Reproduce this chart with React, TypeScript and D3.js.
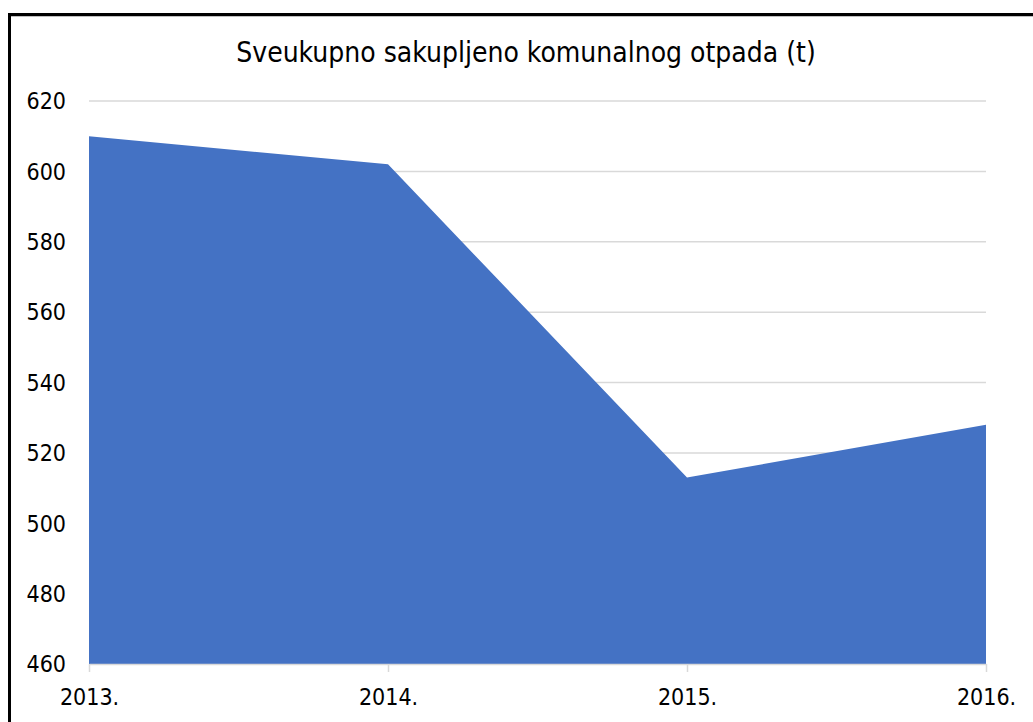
import React, { useEffect, useRef } from 'react';
import * as d3 from 'd3';

const years = ['2013.', '2014.', '2015.', '2016.'];
const tonnes = [610, 602, 513, 528];
const yTicks = [460, 480, 500, 520, 540, 560, 580, 600, 620];
const title = 'Sveukupno sakupljeno komunalnog otpada (t)';

const App: React.FC = () => {
  const svgRef = useRef<SVGSVGElement | null>(null);

  useEffect(() => {
    const W = 1033;
    const H = 722;
    const margin = { top: 101, right: 47, bottom: 58, left: 89 };
    const font = '"DejaVu Sans Condensed", "DejaVu Sans", sans-serif';

    const svg = d3.select(svgRef.current)
      .attr('width', W)
      .attr('height', H)
      .style('background-color', 'white');
    svg.selectAll('*').remove();

    const x = d3.scalePoint<string>()
      .domain(years)
      .range([margin.left, W - margin.right]);

    const y = d3.scaleLinear()
      .domain([460, 620])
      .range([H - margin.bottom, margin.top]);

    // gridlines
    svg.append('g')
      .selectAll('line')
      .data(yTicks.filter(t => t !== 460))
      .enter()
      .append('line')
      .attr('x1', margin.left)
      .attr('x2', W - margin.right)
      .attr('y1', d => y(d))
      .attr('y2', d => y(d))
      .attr('stroke', '#d9d9d9')
      .attr('stroke-width', 1.5);

    // area
    const area = d3.area<number>()
      .x((d, i) => x(years[i]) as number)
      .y0(y(460))
      .y1(d => y(d));

    svg.append('path')
      .datum(tonnes)
      .attr('d', area)
      .attr('fill', '#4472c4');

    // x axis
    const xAxis = svg.append('g')
      .attr('transform', `translate(0,${y(460)})`)
      .call(d3.axisBottom(x).tickSize(8).tickSizeOuter(0).tickPadding(17));
    xAxis.select('.domain').attr('stroke', '#d9d9d9').attr('stroke-width', 1.5);
    xAxis.selectAll('.tick line').attr('stroke', '#d9d9d9').attr('stroke-width', 1.5);
    xAxis.selectAll('.tick text')
      .attr('font-family', font)
      .attr('font-size', 23)
      .attr('fill', '#000');

    // y labels
    svg.append('g')
      .selectAll('text')
      .data(yTicks)
      .enter()
      .append('text')
      .attr('x', 66)
      .attr('y', d => y(d))
      .attr('dy', '0.36em')
      .attr('text-anchor', 'end')
      .attr('font-family', font)
      .attr('font-size', 23)
      .attr('fill', '#000')
      .text(d => d);

    svg.append('text')
      .attr('x', 526)
      .attr('y', 62)
      .attr('text-anchor', 'middle')
      .attr('font-family', font)
      .attr('font-size', 28)
      .attr('fill', '#000')
      .text(title);

    // frame
    svg.append('line')
      .attr('x1', 8).attr('x2', W).attr('y1', 16.5).attr('y2', 16.5)
      .attr('stroke', '#bfbfbf').attr('stroke-width', 1);
    svg.append('line')
      .attr('x1', 8).attr('x2', W).attr('y1', 14.5).attr('y2', 14.5)
      .attr('stroke', '#000').attr('stroke-width', 3);
    svg.append('line')
      .attr('x1', 9.5).attr('x2', 9.5).attr('y1', 13).attr('y2', H)
      .attr('stroke', '#000').attr('stroke-width', 3);
  }, []);

  return (
    <div style={{ position: 'absolute', left: 0, top: 0 }}>
      <svg ref={svgRef}></svg>
    </div>
  );
};

export default App;
